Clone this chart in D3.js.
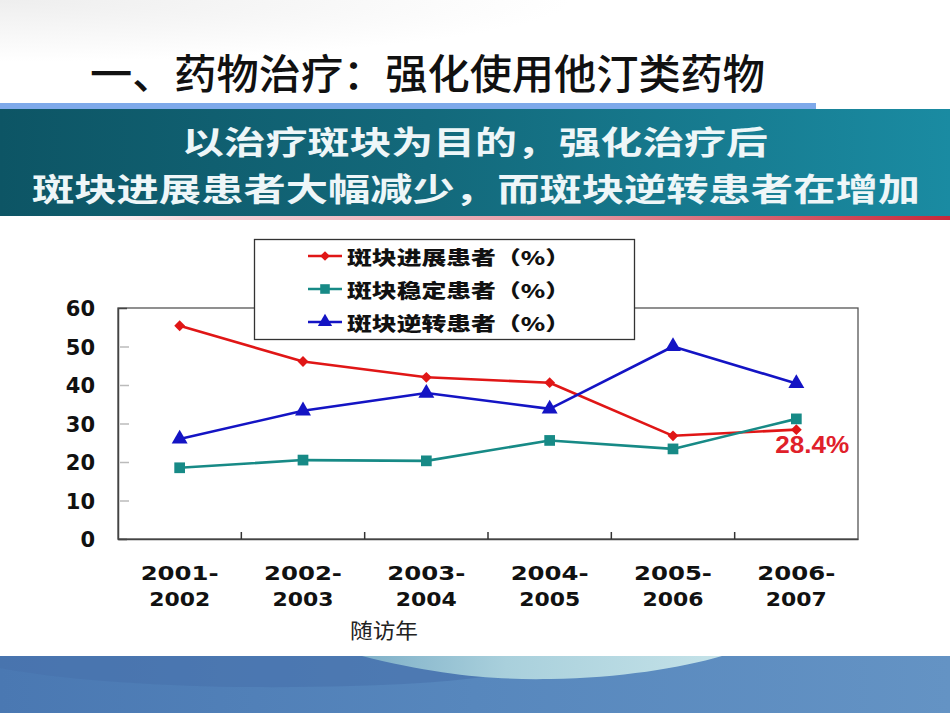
<!DOCTYPE html>
<html>
<head>
<meta charset="utf-8">
<script src="https://cdn.jsdelivr.net/npm/d3@7"></script>
<style>
  html, body { margin: 0; padding: 0; background: #ffffff; }
  svg { display: block; }
</style>
</head>
<body>
<svg id="chart" width="950" height="713"></svg>
<script>
// ---------- data ----------
const categories = ["2001-2002", "2002-2003", "2003-2004", "2004-2005", "2005-2006", "2006-2007"];
const progression = [55.4, 46.1, 42.0, 40.6, 26.8, 28.4];   // 斑块进展患者（%）
const stable      = [18.5, 20.5, 20.3, 25.6, 23.4, 31.2];   // 斑块稳定患者（%）
const regression  = [26.0, 33.3, 37.9, 33.8, 50.0, 40.4];   // 斑块逆转患者（%）
const seriesNames = ["斑块进展患者（%）", "斑块稳定患者（%）", "斑块逆转患者（%）"];
const yTicks = [0, 10, 20, 30, 40, 50, 60];
const titleText = "一、药物治疗：强化使用他汀类药物";
const bannerLines = ["以治疗斑块为目的，强化治疗后", "斑块进展患者大幅减少，而斑块逆转患者在增加"];
const xAxisTitle = "随访年";

// ---------- setup ----------
const svg = d3.select("#chart");
const CJK = "'Noto Sans CJK SC', 'Noto Sans', sans-serif";
const defs = svg.append("defs");

function linGrad(id, stops, x1 = "0%", y1 = "0%", x2 = "100%", y2 = "0%") {
  const g = defs.append("linearGradient").attr("id", id)
    .attr("x1", x1).attr("y1", y1).attr("x2", x2).attr("y2", y2);
  stops.forEach(([o, c, op]) => g.append("stop").attr("offset", o).attr("stop-color", c).attr("stop-opacity", op == null ? 1 : op));
}
linGrad("bannerGrad", [["0%", "#0d5565"], ["45%", "#13697b"], ["100%", "#1a8ba2"]]);
linGrad("redLine", [["0%", "#ffffff", 0], ["20%", "#f6d8de"], ["60%", "#e59aa4"], ["100%", "#c8283a"]]);
linGrad("bottomGrad", [["0%", "#4a78b2"], ["50%", "#5787bd"], ["100%", "#6493c4"]]);
linGrad("arcGrad", [["0%", "#7fb0c8"], ["40%", "#a9d0dc"], ["100%", "#c4e2e8"]]);
const rg = defs.append("radialGradient").attr("id", "bgSwoosh").attr("cx", "0%").attr("cy", "0%").attr("r", "60%");
rg.append("stop").attr("offset", "0%").attr("stop-color", "#eeeeee");
rg.append("stop").attr("offset", "100%").attr("stop-color", "#ffffff");

// ---------- background decorations ----------
svg.append("rect").attr("x", 0).attr("y", 0).attr("width", 950).attr("height", 103).attr("fill", "url(#bgSwoosh)");

// title
svg.append("text")
  .attr("x", 90).attr("y", 71)
  .attr("dominant-baseline", "central")
  .attr("font-family", CJK).attr("font-size", 41).attr("font-weight", 500)
  .attr("fill", "#111")
  .attr("textLength", 675).attr("lengthAdjust", "spacingAndGlyphs")
  .text(titleText);

// light blue bar
svg.append("rect").attr("x", 0).attr("y", 103).attr("width", 816).attr("height", 6.5).attr("fill", "#7ea9ea");
// teal banner
svg.append("rect").attr("x", 0).attr("y", 109).attr("width", 950).attr("height", 107).attr("fill", "url(#bannerGrad)");
// red line under banner
svg.append("rect").attr("x", 0).attr("y", 216).attr("width", 950).attr("height", 4).attr("fill", "url(#redLine)");

// banner text
svg.append("text")
  .attr("x", 182).attr("y", 140).attr("dominant-baseline", "central")
  .attr("font-family", CJK).attr("font-size", 32).attr("font-weight", 700)
  .attr("fill", "#eef6f8")
  .attr("textLength", 586).attr("lengthAdjust", "spacingAndGlyphs")
  .text(bannerLines[0]);
svg.append("text")
  .attr("x", 32).attr("y", 187).attr("dominant-baseline", "central")
  .attr("font-family", CJK).attr("font-size", 32).attr("font-weight", 700)
  .attr("fill", "#eef6f8")
  .attr("textLength", 888).attr("lengthAdjust", "spacingAndGlyphs")
  .text(bannerLines[1]);

// bottom band
svg.append("rect").attr("x", 0).attr("y", 656).attr("width", 950).attr("height", 57).attr("fill", "url(#bottomGrad)");
svg.append("path")
  .attr("d", "M0,668 C120,690 300,690 420,683 C470,680 520,672 560,664 L560,656 L0,656 Z")
  .attr("fill", "#4772ac").attr("opacity", 0.6);
svg.append("path")
  .attr("d", "M362,656 C440,676 500,680 550,679 C620,678 680,668 722,656 Z")
  .attr("fill", "url(#arcGrad)");

// ---------- chart ----------
const plot = { left: 118, right: 858, top: 308, bottom: 539 };
const x = d3.scaleBand().domain(categories).range([plot.left, plot.right]).padding(0);
const y = d3.scaleLinear().domain([0, 60]).range([plot.bottom, plot.top]);
const cx = (i) => x(categories[i]) + x.bandwidth() / 2;

// frame
svg.append("rect")
  .attr("x", plot.left).attr("y", plot.top)
  .attr("width", plot.right - plot.left).attr("height", plot.bottom - plot.top)
  .attr("fill", "none").attr("stroke", "#555").attr("stroke-width", 1.3);

// y axis
const yAxis = svg.append("g")
  .attr("transform", `translate(${plot.left},0)`)
  .call(d3.axisLeft(y).tickValues(yTicks).tickSize(-9).tickPadding(23).tickFormat(d3.format("d")));
yAxis.select(".domain").attr("stroke", "#444").attr("stroke-width", 1.5);
yAxis.selectAll(".tick line").attr("stroke", "#bbb").attr("stroke-width", 1.5)
  .attr("transform", "translate(2,0)")
  .filter(d => d === 0 || d === 60).remove();
yAxis.selectAll(".tick text")
  .attr("font-family", "'DejaVu Sans', sans-serif").attr("font-size", 21).attr("font-weight", 700)
  .attr("fill", "#111").attr("dy", "0.36em");

// x axis (domain + boundary ticks)
const xAxis = svg.append("g")
  .attr("transform", `translate(0,${plot.bottom})`)
  .call(d3.axisBottom(x).tickSize(0).tickFormat(""));
xAxis.select(".domain").attr("stroke", "#444").attr("stroke-width", 1.5);
xAxis.selectAll(".tick").remove();
xAxis.selectAll("line.boundary")
  .data(categories.slice(1))
  .enter().append("line")
  .attr("class", "boundary")
  .attr("x1", d => x(d)).attr("x2", d => x(d))
  .attr("y1", 0).attr("y2", -7)
  .attr("stroke", "#333").attr("stroke-width", 1.5);

// x labels (two lines)
const xl = svg.append("g");
categories.forEach((c, i) => {
  const parts = c.split("-");
  xl.append("text")
    .attr("x", cx(i)).attr("y", 573).attr("text-anchor", "middle").attr("dominant-baseline", "central")
    .attr("font-family", "'DejaVu Sans', sans-serif").attr("font-size", 19).attr("font-weight", 700)
    .attr("fill", "#111")
    .attr("textLength", 78).attr("lengthAdjust", "spacingAndGlyphs")
    .text(parts[0] + "-");
  xl.append("text")
    .attr("x", cx(i)).attr("y", 599).attr("text-anchor", "middle").attr("dominant-baseline", "central")
    .attr("font-family", "'DejaVu Sans', sans-serif").attr("font-size", 19).attr("font-weight", 700)
    .attr("fill", "#111")
    .attr("textLength", 61).attr("lengthAdjust", "spacingAndGlyphs")
    .text(parts[1]);
});

// x axis title
svg.append("text")
  .attr("x", 350).attr("y", 629).attr("dominant-baseline", "central")
  .attr("font-family", CJK).attr("font-size", 21).attr("font-weight", 400)
  .attr("fill", "#222")
  .attr("textLength", 68).attr("lengthAdjust", "spacingAndGlyphs")
  .text(xAxisTitle);

// series
const series = [
  { name: seriesNames[0], values: progression, color: "#e01616", symbol: d3.symbolDiamond2, size: 75 },
  { name: seriesNames[1], values: stable,      color: "#178a86", symbol: d3.symbolSquare,   size: 115 },
  { name: seriesNames[2], values: regression,  color: "#1414c4", symbol: d3.symbolTriangle, size: 110 }
];
const line = d3.line().x((d, i) => cx(i)).y(d => y(d));
const gSeries = svg.append("g");
series.forEach(s => {
  gSeries.append("path").datum(s.values)
    .attr("d", line).attr("fill", "none")
    .attr("stroke", s.color).attr("stroke-width", 2.6).attr("stroke-linejoin", "round");
  gSeries.selectAll(null).data(s.values).enter().append("path")
    .attr("transform", (d, i) => `translate(${cx(i)},${y(d)})`)
    .attr("d", d3.symbol().type(s.symbol).size(s.size))
    .attr("fill", s.color);
});

// annotation on last progression value
const lastI = progression.length - 1;
svg.append("text")
  .attr("x", cx(lastI) - 21).attr("y", y(progression[lastI]) + 23)
  .attr("font-family", "'Liberation Sans', Arial, sans-serif").attr("font-size", 23).attr("font-weight", 700)
  .attr("fill", "#e0202a")
  .attr("textLength", 74).attr("lengthAdjust", "spacingAndGlyphs")
  .text(progression[lastI] + "%");

// legend
const lg = svg.append("g");
lg.append("rect").attr("x", 254.5).attr("y", 239.5).attr("width", 380).attr("height", 100)
  .attr("fill", "#fff").attr("stroke", "#333").attr("stroke-width", 1.3);
const rowY = [256, 289, 322];
series.forEach((s, i) => {
  lg.append("line").attr("x1", 308).attr("x2", 342).attr("y1", rowY[i]).attr("y2", rowY[i])
    .attr("stroke", s.color).attr("stroke-width", 2.6);
  lg.append("path").attr("transform", `translate(325,${rowY[i]})`)
    .attr("d", d3.symbol().type(s.symbol).size(s.size * 0.8)).attr("fill", s.color);
  lg.append("text")
    .attr("x", 347).attr("y", rowY[i]).attr("dominant-baseline", "central")
    .attr("font-family", CJK).attr("font-size", 19).attr("font-weight", 900)
    .attr("fill", "#111")
    .attr("textLength", 223).attr("lengthAdjust", "spacingAndGlyphs")
    .text(s.name);
});
</script>
</body>
</html>
